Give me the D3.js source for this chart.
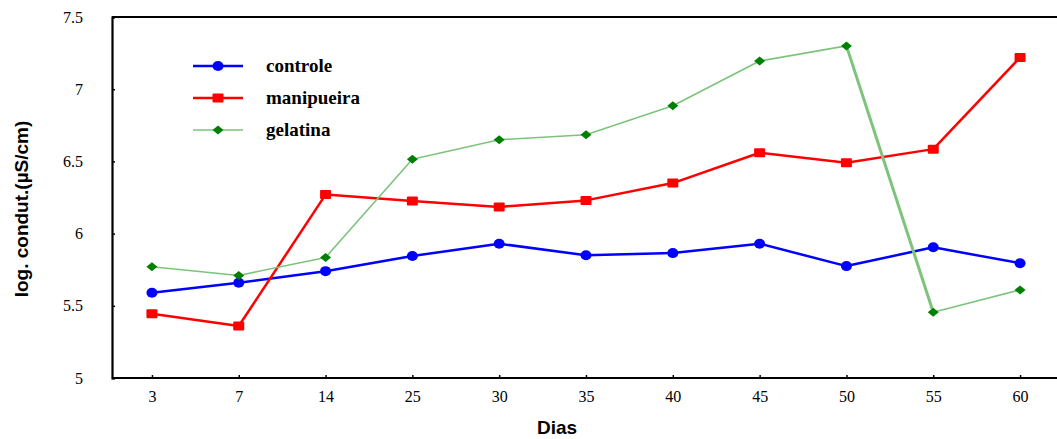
<!DOCTYPE html>
<html>
<head>
<meta charset="utf-8">
<script src="https://cdn.jsdelivr.net/npm/d3@7"></script>
<style>
  html, body { margin: 0; padding: 0; background: #fff; }
  svg { display: block; }
</style>
</head>
<body>
<svg id="chart" width="1057" height="439"></svg>
<script>
// Sampling days (categorical x axis)
const dias = ["3", "7", "14", "25", "30", "35", "40", "45", "50", "55", "60"];

// log conductivity (µS/cm) per treatment
const controle   = [5.59, 5.66, 5.74, 5.845, 5.93, 5.85, 5.865, 5.93, 5.775, 5.905, 5.795];
const manipueira = [5.445, 5.36, 6.27, 6.225, 6.185, 6.23, 6.35, 6.56, 6.49, 6.585, 7.22];
const gelatina   = [5.77, 5.71, 5.835, 6.515, 6.65, 6.685, 6.885, 7.195, 7.30, 5.455, 5.61];

const yTicks = [5, 5.5, 6, 6.5, 7, 7.5];

const series = [
  { name: "controle",   values: controle,   line: "#0000ff", fill: "#0000ff", width: 2.5, shape: "circle" },
  { name: "manipueira", values: manipueira, line: "#ff0000", fill: "#ff0000", width: 2.5, shape: "square" },
  { name: "gelatina",   values: gelatina,   line: "#7cc47c", fill: "#008000", width: 1.6, shape: "diamond" }
];

const svg = d3.select("#chart");
const plotL = 112, plotR = 1060, plotT = 17, plotB = 378;
const serif = "'Liberation Serif', 'Times New Roman', serif";
const sans = "'Liberation Sans', Arial, sans-serif";

const x = d3.scalePoint().domain(dias).range([plotL, plotR]).padding(0.46);
const y = d3.scaleLinear().domain([5, 7.5]).range([plotB, plotT]);

// frame: top line and left/bottom axes
svg.append("line").attr("x1", plotL).attr("x2", 1057).attr("y1", plotT).attr("y2", plotT)
  .attr("stroke", "#000").attr("stroke-width", 2);

const yAxis = svg.append("g").attr("transform", `translate(${plotL},0)`)
  .call(d3.axisRight(y).tickValues(yTicks).tickSize(3).tickFormat(d3.format("")));
yAxis.select(".domain").attr("stroke-width", 2.2);
yAxis.selectAll(".tick line").attr("stroke-width", 1.5);
yAxis.selectAll(".tick text")
  .attr("x", -29).attr("text-anchor", "end")
  .attr("font-family", serif).attr("font-size", 16).attr("fill", "#000");

const xAxis = svg.append("g").attr("transform", `translate(0,${plotB})`)
  .call(d3.axisTop(x).tickSize(3).tickSizeOuter(0));
xAxis.select(".domain").attr("stroke-width", 2.2).attr("d", `M${plotL},0H1057`);
xAxis.selectAll(".tick line").attr("stroke-width", 1.5);
xAxis.selectAll(".tick text")
  .attr("y", 24).attr("dy", 0)
  .attr("font-family", serif).attr("font-size", 16).attr("fill", "#000");

// axis titles
svg.append("text").attr("x", 557).attr("y", 434).attr("text-anchor", "middle")
  .attr("font-family", sans).attr("font-weight", "bold")
  .attr("font-size", 19).text("Dias");
svg.append("text").attr("transform", "translate(28,209) rotate(-90)").attr("text-anchor", "middle")
  .attr("font-family", sans).attr("font-weight", "bold")
  .attr("font-size", 19).text("log. condut.(µS/cm)");

function marker(g, shape, fill, cx, cy) {
  if (shape === "circle") {
    g.append("ellipse").attr("cx", cx).attr("cy", cy).attr("rx", 5.5).attr("ry", 5)
      .attr("fill", fill);
  } else if (shape === "square") {
    g.append("rect").attr("x", cx - 5.5).attr("y", cy - 4.5).attr("width", 11).attr("height", 9)
      .attr("rx", 1).attr("fill", fill);
  } else {
    g.append("path").attr("d", `M${cx - 5.5},${cy}L${cx},${cy - 4.5}L${cx + 5.5},${cy}L${cx},${cy + 4.5}Z`)
      .attr("fill", fill);
  }
}

// series: segments then markers
series.forEach(s => {
  const g = svg.append("g");
  for (let i = 0; i < dias.length - 1; i++) {
    const steep = Math.abs(s.values[i + 1] - s.values[i]) > 1.5;
    g.append("line")
      .attr("x1", x(dias[i])).attr("y1", y(s.values[i]))
      .attr("x2", x(dias[i + 1])).attr("y2", y(s.values[i + 1]))
      .attr("stroke", s.line)
      .attr("stroke-width", steep && s.shape === "diamond" ? 3 : s.width);
  }
  s.values.forEach((v, i) => marker(g, s.shape, s.fill, x(dias[i]), y(v)));
});

// legend
const legY = [66, 98, 130];
series.forEach((s, i) => {
  const g = svg.append("g");
  g.append("line").attr("x1", 193).attr("x2", 243).attr("y1", legY[i]).attr("y2", legY[i])
    .attr("stroke", s.line).attr("stroke-width", s.width);
  marker(g, s.shape, s.fill, 218, legY[i]);
  g.append("text").attr("x", 266).attr("y", legY[i] + 6)
    .attr("font-family", serif).attr("font-weight", "bold")
    .attr("font-size", 19).text(s.name);
});
</script>
</body>
</html>
